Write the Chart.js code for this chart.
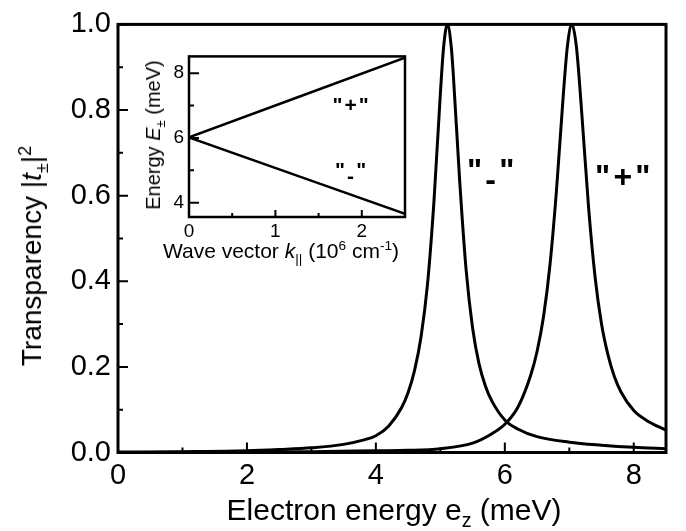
<!DOCTYPE html>
<html>
<head>
<meta charset="utf-8">
<script src="https://cdn.jsdelivr.net/npm/chart.js@4.4.1/dist/chart.umd.min.js"></script>
<style>
  body { margin: 0; background: #fff; }
  #wrap { position: relative; width: 686px; height: 531px; font-family: "Liberation Sans", Arial, sans-serif; color: #000; }
  canvas { position: absolute; }
  #main { left: 0; top: 0; }
  #inset { left: 130px; top: 40px; }
  .lbl { position: absolute; white-space: nowrap; line-height: 1; }
  .lbl sub, .lbl sup { font-size: 65%; line-height: 0; }
</style>
</head>
<body>
<div id="wrap">
  <canvas id="main" width="686" height="531"></canvas>
  <canvas id="inset" width="285" height="228"></canvas>
  <div class="lbl" style="left:32px;top:256px;font-size:28px;transform:translate(-50%,-50%) rotate(-90deg);">Transparency |<i>t</i><sub>±</sub>|<sup>2</sup></div>
  <div class="lbl" style="left:394px;top:510px;font-size:30px;transform:translate(-50%,-50%);">Electron energy e<sub>z</sub> (meV)</div>
  <div class="lbl" style="left:153px;top:135px;font-size:20px;transform:translate(-50%,-50%) rotate(-90deg);">Energy <i>E</i><sub>±</sub> (meV)</div>
  <div class="lbl" style="left:281px;top:250px;font-size:21px;transform:translate(-50%,-50%);">Wave vector <i>k</i><sub>||</sub> (10<sup>6</sup> cm<sup>-1</sup>)</div>
</div>
<script>
const FONT = '"Liberation Sans", Arial, sans-serif';

// main plot: transparency vs electron energy
const minusE = [0, 1, 2, 2.5, 3, 3.5, 3.8, 4.0, 4.2, 4.4, 4.5, 4.6, 4.7, 4.8, 4.9, 5.0, 5.05, 5.11, 5.17, 5.2, 5.3, 5.4, 5.5, 5.6, 5.7, 5.8, 6.0, 6.2, 6.5, 7.0, 7.5, 8.0, 8.5];
const minusT = [0.001, 0.002, 0.004, 0.007, 0.011, 0.019, 0.029, 0.039, 0.062, 0.105, 0.14, 0.192, 0.27, 0.392, 0.585, 0.838, 0.946, 1.0, 0.946, 0.885, 0.634, 0.426, 0.291, 0.207, 0.155, 0.12, 0.076, 0.055, 0.037, 0.024, 0.017, 0.012, 0.009];
const plusE = [0, 1, 2, 3, 4, 4.5, 5.0, 5.5, 5.8, 6.0, 6.2, 6.4, 6.5, 6.6, 6.7, 6.8, 6.9, 6.97, 7.04, 7.11, 7.2, 7.3, 7.4, 7.5, 7.6, 7.7, 7.8, 8.0, 8.2, 8.5];
const plusT = [0, 0.0005, 0.001, 0.002, 0.004, 0.005, 0.009, 0.022, 0.044, 0.066, 0.105, 0.18, 0.236, 0.317, 0.438, 0.61, 0.821, 0.948, 1.0, 0.948, 0.779, 0.571, 0.41, 0.3, 0.228, 0.177, 0.142, 0.098, 0.075, 0.052];

const xMajor = [0, 2, 4, 6, 8];
const xMinor = [1, 3, 5, 7];
const yMajor = [0, 0.2, 0.4, 0.6, 0.8, 1.0];
const yMinor = [0.1, 0.3, 0.5, 0.7, 0.9];

const mainLabels = ['"-"', '"+"'];
const mainLabelX = [5.78, 7.83];
const mainLabelY = [0.635, 0.62];

// inset: dispersion E(k)
const kVals = [0, 1.25, 2.5];
const ePlus = [6.02, 7.25, 8.48];
const eMinus = [6.02, 4.84, 3.66];

const kMajor = [0, 1, 2];
const kMinor = [0.5, 1.5];
const eMajor = [4, 6, 8];
const eMinor = [5, 7];

const insetLabels = ['"+"', '"-"'];
const insetLabelX = [1.87, 1.87];
const insetLabelY = [6.8, 4.8];

function pts(xs, ys) {
    return xs.map((x, i) => ({ x, y: ys[i] }));
}

// draws the quote label; a minus sign sits low, near the baseline
function drawQuoted(ctx, text, cx, baseline, size) {
    ctx.font = `bold ${size}px ${FONT}`;
    ctx.textBaseline = "alphabetic";
    ctx.textAlign = "left";
    const gap = size * 0.1;
    const parts = text.split("");
    const widths = parts.map((p) => ctx.measureText(p).width);
    const total = widths.reduce((s, w) => s + w, 0) + gap * (parts.length - 1);
    let x = cx - total / 2;
    parts.forEach((p, i) => {
        const dy = p === "-" ? size * 0.28 : 0;
        ctx.fillText(p, x, baseline + dy);
        x += widths[i] + gap;
    });
}

const framePlugin = {
    id: "frame",
    afterDraw(chart, args, o) {
        const { ctx, chartArea: a, scales } = chart;
        const xs = scales.x, ys = scales.y;
        ctx.save();
        ctx.strokeStyle = "#000";
        ctx.lineWidth = o.tickWidth;
        ctx.beginPath();
        const xt = (vals, len) => vals.forEach((v) => {
            const p = xs.getPixelForValue(v);
            ctx.moveTo(p, a.bottom);
            ctx.lineTo(p, a.bottom - len);
        });
        const yt = (vals, len) => vals.forEach((v) => {
            const p = ys.getPixelForValue(v);
            ctx.moveTo(a.left, p);
            ctx.lineTo(a.left + len, p);
        });
        xt(o.xMajor, o.xMajorLen);
        xt(o.xMinor, o.xMinorLen);
        yt(o.yMajor, o.yMajorLen);
        yt(o.yMinor, o.yMinorLen);
        ctx.stroke();
        ctx.lineWidth = o.borderWidth;
        ctx.strokeRect(a.left, a.top, a.right - a.left, a.bottom - a.top);
        ctx.fillStyle = "#000";
        o.labels.forEach((t, i) => {
            drawQuoted(ctx, t, xs.getPixelForValue(o.labelX[i]), ys.getPixelForValue(o.labelY[i]), o.labelSize);
        });
        ctx.restore();
    },
};

function axis(min, max, ticks, size, pad, fit, fmt) {
    return {
        type: "linear",
        min,
        max,
        afterBuildTicks: (s) => { s.ticks = ticks.map((v) => ({ value: v })); },
        afterFit: fit,
        grid: { display: false, drawTicks: false },
        border: { display: false },
        ticks: { color: "#000", font: { family: FONT, size }, padding: pad, maxRotation: 0, callback: fmt },
    };
}

new Chart(document.getElementById("main"), {
    type: "line",
    data: {
        datasets: [
            { data: pts(minusE, minusT), borderColor: "#000", borderWidth: 3, pointRadius: 0, cubicInterpolationMode: "monotone" },
            { data: pts(plusE, plusT), borderColor: "#000", borderWidth: 3, pointRadius: 0, cubicInterpolationMode: "monotone" },
        ],
    },
    options: {
        responsive: false,
        animation: false,
        devicePixelRatio: 1,
        layout: { padding: { top: 19, right: 20, left: 0, bottom: 0 } },
        plugins: {
            legend: { display: false },
            tooltip: { enabled: false },
            frame: {
                xMajor, xMinor, yMajor, yMinor,
                xMajorLen: 10, xMinorLen: 5, yMajorLen: 10, yMinorLen: 5,
                tickWidth: 2, borderWidth: 3,
                labels: mainLabels, labelX: mainLabelX, labelY: mainLabelY, labelSize: 32,
            },
        },
        scales: {
            x: axis(0, 8.5, xMajor, 29, 6, (s) => { s.height = 78.5; }, (v) => String(v)),
            y: axis(0, 1, yMajor, 29, 7, (s) => { s.width = 118; }, (v) => v.toFixed(1)),
        },
    },
    plugins: [framePlugin],
});

new Chart(document.getElementById("inset"), {
    type: "line",
    data: {
        datasets: [
            { data: pts(kVals, ePlus), borderColor: "#000", borderWidth: 2.5, pointRadius: 0 },
            { data: pts(kVals, eMinus), borderColor: "#000", borderWidth: 2.5, pointRadius: 0 },
        ],
    },
    options: {
        responsive: false,
        animation: false,
        devicePixelRatio: 1,
        layout: { padding: { top: 13, right: 10, left: 0, bottom: 0 } },
        plugins: {
            legend: { display: false },
            tooltip: { enabled: false },
            frame: {
                xMajor: kMajor, xMinor: kMinor, yMajor: eMajor, yMinor: eMinor,
                xMajorLen: 7, xMinorLen: 4, yMajorLen: 10, yMinorLen: 5,
                tickWidth: 2, borderWidth: 2.5,
                labels: insetLabels, labelX: insetLabelX, labelY: insetLabelY, labelSize: 21,
            },
        },
        scales: {
            x: axis(0, 2.5, kMajor, 19, 3, (s) => { s.height = 51; }, (v) => String(v)),
            y: axis(3.56, 8.52, eMajor, 19, 5, (s) => { s.width = 59; }, (v) => String(v)),
        },
    },
    plugins: [framePlugin],
});
</script>
</body>
</html>
